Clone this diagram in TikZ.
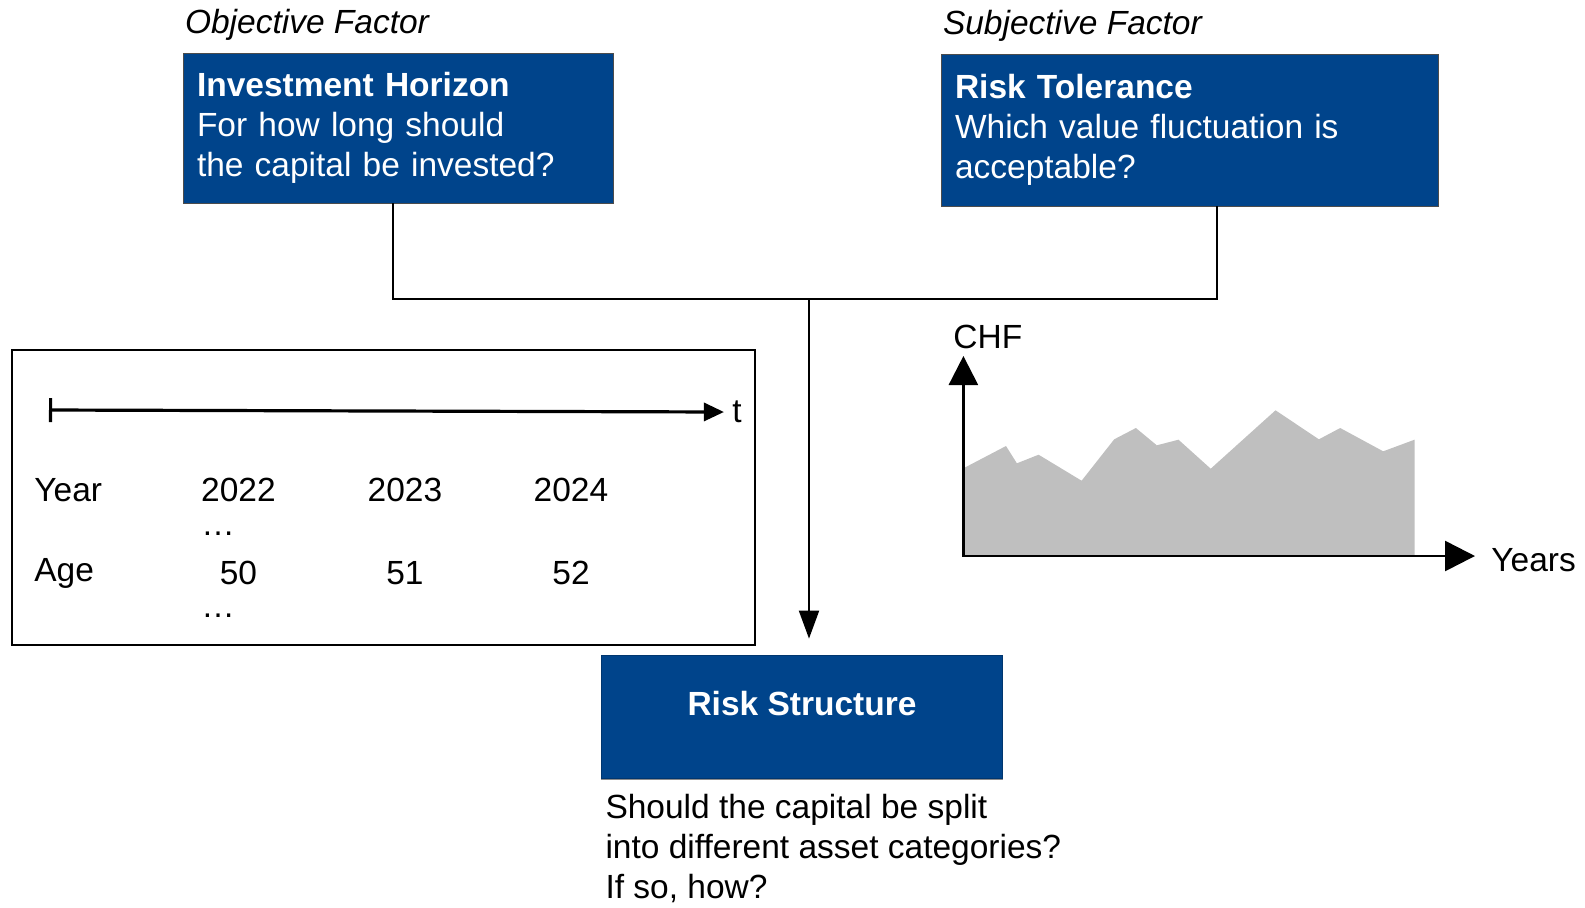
\documentclass[tikz,border=0pt]{standalone}
\usepackage{fontspec}
\setmainfont{Liberation Sans}
\usetikzlibrary{positioning,arrows.meta}

\definecolor{navy}{RGB}{0,68,139}

\begin{document}
\begin{tikzpicture}[
x=0.5pt, y=-0.5pt,
font=\fontsize{16.75pt}{20pt}\selectfont,
box/.style={rectangle, draw=black!70, fill=navy, text=white, align=left, inner xsep=7pt, inner ysep=0pt},
factor/.style={inner sep=0pt, font=\fontsize{16.75pt}{20pt}\selectfont\itshape},
plain/.style={inner sep=0pt},
link/.style={line width=1pt},
axis/.style={line width=1.3pt, {Triangle[length=14.5pt,width=14.5pt]}-{Triangle[length=15pt,width=15pt]}}
]
\useasboundingbox (0,0) rectangle (1585,907);

% the two factors
\node[box, text width=201pt, minimum height=75pt] (horizon) at (398,128)
  {\textbf{Investment Horizon}\\For how long should\\the capital be invested?};
\node[factor, above right=6pt and 1pt of horizon.north west] (objective) {Objective Factor};

\node[box, text width=234.5pt, minimum height=76pt] (tolerance) at (1189.5,130)
  {\textbf{Risk Tolerance}\\Which value fluctuation is\\acceptable?};
\node[factor, above right=6pt and 1pt of tolerance.north west] (subjective) {Subjective Factor};

% result
\node[box, draw=navy!80!black, align=center, minimum width=200.5pt, minimum height=61.5pt,
  text height=12pt, text depth=13.5pt, font=\fontsize{16.75pt}{20pt}\selectfont\bfseries] (risk) at (802,716.5) {Risk Structure};
\draw[black!45, line width=0.8pt] ([yshift=-0.5pt]risk.south west) -- ([yshift=-0.5pt]risk.south east);
\node[plain, align=left, below right=7.5pt and 2pt of risk.south west] (question)
  {Should the capital be split\\into different asset categories?\\If so, how?};

\coordinate (join) at (809,299);
\draw[link] ([xshift=-2.5pt]horizon.south) |- (join) -| ([xshift=13.75pt]tolerance.south);
\draw[link, -{Triangle[length=14pt,width=10pt]}] (join) -- ([yshift=8pt]risk.north -| join);

% time line
\node[draw, line width=1.2pt, minimum width=371.5pt, minimum height=147.5pt] (timebox) at (383.5,497.5) {};
\coordinate (tstart) at (49,410);
\node[plain] (tlabel) at (737,412) {t};
\draw[line width=1.6pt, {Bar[width=12pt]}-{Triangle[length=10pt,width=9pt]}] (tstart) -- ([xshift=-4pt]tlabel.west);

\node[plain, anchor=west] (year) at (34,490) {Year};
\node[plain, anchor=west] (age) at (34,573) {Age};
\foreach \yr/\ag/\x in {2022/50/238.5, 2023/51/405, 2024/52/571}{
  \node[plain] (y\yr) at (\x,490) {\yr};
  \node[plain] (a\ag) at (\x,573) {\ag};
}
\node[plain] (dotsa) at (218,534) {…};
\node[plain] (dotsb) at (218,616) {…};

% value chart
\fill[black!25] (963.4,468.3) -- (1006,446) -- (1016.9,463.3) -- (1038.6,454.7) -- (1081.6,480.7)
  -- (1114.2,439.3) -- (1135.9,428) -- (1156.8,445.3) -- (1178.5,439.7) -- (1210.7,468.7)
  -- (1275.5,410.3) -- (1318.9,439.3) -- (1340.2,428) -- (1383.2,451.3) -- (1414.5,439.7)
  -- (1414.5,556) -- (963.4,556) -- cycle;
\coordinate (ytop) at (963.4,356);
\coordinate (xend) at (1475,556);
\draw[axis] (ytop) |- (xend);
\node[plain, anchor=west] (chf) at (953,337) {CHF};
\node[plain, anchor=west] (years) at (1491,560) {Years};

\end{tikzpicture}
\end{document}
